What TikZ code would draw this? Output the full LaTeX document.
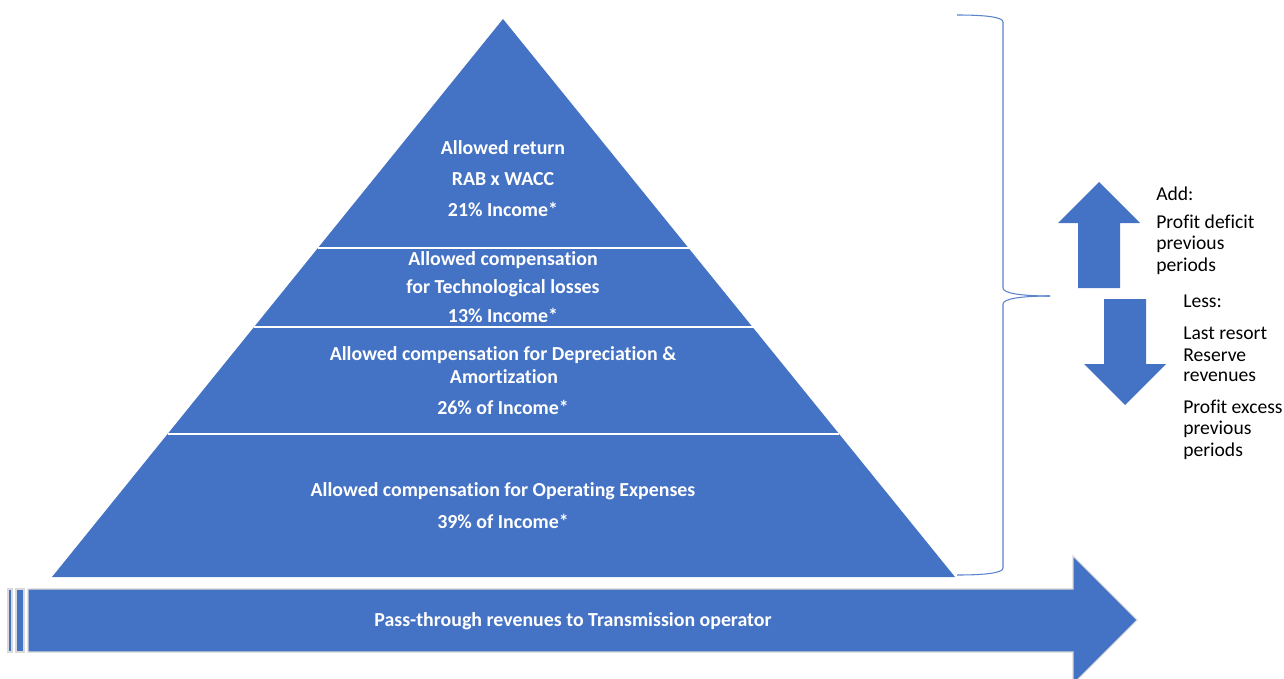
\documentclass[tikz,border=0pt]{standalone}
\usepackage{fontspec}
\setmainfont[Ligatures={NoCommon,NoContextual}]{Carlito}
\definecolor{oblue}{HTML}{4472C4}
\definecolor{bline}{HTML}{5B84CC}
\tikzset{
  band/.style={text=white,font=\bfseries\fontsize{14.9}{17}\selectfont,inner sep=0pt,anchor=center},
  side/.style={text=black,font=\fontsize{14.7}{17}\selectfont,inner sep=0pt,anchor=west},
  stripe/.style={fill=oblue,draw=black!15,line width=0.8pt}
}
\begin{document}
\begin{tikzpicture}[x=0.75pt,y=-0.75pt]
\useasboundingbox (0,0) rectangle (1284,678);
% pyramid
\fill[oblue] (503,19) -- (955,577) -- (52,577) -- cycle;
\draw[white,line width=1.6pt] (317.9,248) -- (688.5,248);
\draw[white,line width=1.6pt] (254.1,327) -- (752.5,327);
\draw[white,line width=1.6pt] (167.6,434) -- (839.2,434);
% band texts
\node[band] (r1) at (503,148) {Allowed return};
\node[band] (r2) at (503,179) {RAB x WACC};
\node[band] (r3) at (503,209) {21\% Income*};
\node[band] (t1) at (503,260) {Allowed compensation};
\node[band] (t2) at (503,288) {for Technological losses};
\node[band] (t3) at (503,315) {13\% Income*};
\node[band] (d1) at (503,355) {Allowed compensation for Depreciation \&};
\node[band] (d2) at (504,377) {Amortization};
\node[band] (d3) at (503,407) {26\% of Income*};
\node[band] (o1) at (503,491) {Allowed compensation for Operating Expenses};
\node[band] (o2) at (503,521) {39\% of Income*};
% bottom arrow
\filldraw[stripe] (8,589) rectangle (12,652);
\filldraw[stripe] (16,589) rectangle (24,652);
\filldraw[stripe] (28,589) -- (1073,589) -- (1073,556) -- (1137,620) -- (1073,684) -- (1073,652) -- (28,652) -- cycle;
\node[band] (pt) at (573,621) {Pass-through revenues to Transmission operator};
% brace
\draw[bline,line width=0.8pt] (957,15) .. controls (985,15) and (1003,17) .. (1003,22)
  -- (1003,288) .. controls (1003,293) and (1020,296) .. (1050,296);
\draw[bline,line width=0.8pt] (1050,296) .. controls (1020,296) and (1003,299) .. (1003,304)
  -- (1003,568) .. controls (1003,573) and (985,575) .. (957,575);
% up arrow
\fill[oblue] (1078,288) -- (1078,223) -- (1058,223) -- (1099,182) -- (1140,223) -- (1120,223) -- (1120,288) -- cycle;
% down arrow
\fill[oblue] (1104,299) -- (1146,299) -- (1146,364) -- (1166,364) -- (1125,405) -- (1084,364) -- (1104,364) -- cycle;
% side texts
\node[side] (a0) at (1156,194) {Add:};
\node[side] (a1) at (1156,222) {Profit deficit};
\node[side] (a2) at (1156,244) {previous};
\node[side] (a3) at (1156,266) {periods};
\node[side] (l0) at (1183,301) {Less:};
\node[side] (l1) at (1183,333) {Last resort};
\node[side] (l2) at (1183,355) {Reserve};
\node[side] (l3) at (1183,377) {revenues};
\node[side] (l4) at (1183,407) {Profit excess};
\node[side] (l5) at (1183,429) {previous};
\node[side] (l6) at (1183,451) {periods};
\end{tikzpicture}
\end{document}
